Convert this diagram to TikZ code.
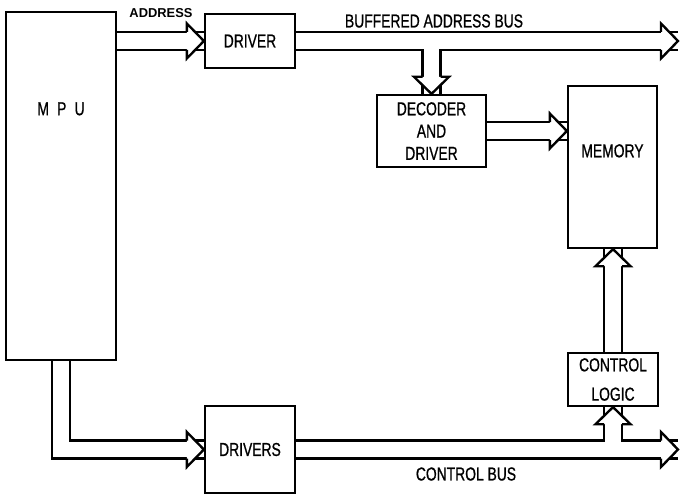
\documentclass[tikz,border=0pt]{standalone}
\usepackage{fontspec}
\setmainfont{Liberation Sans}[FakeStretch=0.74,FakeBold=0.8]
\newfontfamily\addrfont{Liberation Sans}
\usetikzlibrary{calc}

\begin{document}
\begin{tikzpicture}[x=0.3mm,y=-0.3mm,
  box/.style={draw,line width=2pt,align=center,inner sep=2pt,font=\fontsize{16}{19}\selectfont},
  txt/.style={font=\fontsize{16}{19}\selectfont,inner sep=1pt},
  bus/.style={draw,line width=2pt,double=white,double distance=4.7mm},
  bushead/.pic={\filldraw[fill=white,line width=2pt] (-17,-9) -- (-17,-17.5) -- (0,0) -- (-17,17.5) -- (-17,9);}]
\useasboundingbox (0,0) rectangle (681,495);
% blocks
\node[box,minimum width=33mm,minimum height=104.4mm] (mpu) at (61,186) {};
\node[txt] (mpulbl) at ($(mpu.north)+(0,98)$) {M\hspace{7pt}P\hspace{7pt}U};
\node[box,minimum width=27mm,minimum height=16.2mm] (drv) at (250,41) {DRIVER};
\node[box,minimum width=32.7mm,minimum height=21.6mm] (dec) at (431.5,131) {DECODER\\AND\\DRIVER};
\node[box,minimum width=26.7mm,minimum height=48.6mm] (mem) at (612.5,167) {};
\node[txt] (memlbl) at ($(mem.north)+(0,66)$) {MEMORY};
\node[box,minimum width=27mm,minimum height=15.9mm] (ctrl) at (613,379.5) {CONTROL\\[6pt]LOGIC};
\node[box,minimum width=27mm,minimum height=26.1mm] (drvs) at (250,449.5) {DRIVERS};
\coordinate (abusend) at (678,41);
\coordinate (cbusend) at (678,449.5);
% buses
\draw[bus] (mpu.east |- drv.west) -- (drv.west);
\draw[bus] (drv.east) -- (abusend) (dec.north |- drv.east) -- (dec.north);
\draw[bus] (dec.east) -- (mem.west |- dec.east);
\draw[bus] (ctrl.north) -- (ctrl.north |- mem.south);
\draw[bus] (mpu.south) -- (mpu.south |- drvs.west) -- (drvs.west);
\draw[bus] (drvs.east) -- (cbusend) (ctrl.south |- drvs.east) -- (ctrl.south);
\pic at (drv.west) {bushead};
\pic at (abusend) {bushead};
\pic[rotate=-90] at (dec.north) {bushead};
\pic at (mem.west |- dec.east) {bushead};
\pic[rotate=90] at (ctrl.north |- mem.south) {bushead};
\pic at (drvs.west) {bushead};
\pic at (cbusend) {bushead};
\pic[rotate=90] at (ctrl.south) {bushead};
% bus names
\node[font=\addrfont\bfseries\fontsize{11}{13}\selectfont] (addrlbl) at (161,13) {ADDRESS};
\node[txt] (bablbl) at (434,21) {BUFFERED ADDRESS BUS};
\node[txt] (cblbl) at (466,474) {CONTROL BUS};
\end{tikzpicture}
\end{document}
